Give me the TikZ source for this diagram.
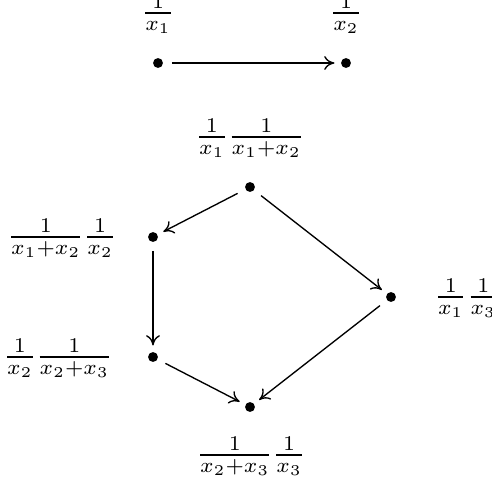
\documentclass[tikz,border=0pt]{standalone}
\usepackage{amsmath}
\usepackage{tikz}
\usetikzlibrary{arrows.meta}

\begin{document}
\begin{tikzpicture}[x=0.3333pt, y=-0.3333pt, >={To[length=3.4pt, width=4.6pt]},
  dot/.style={circle, fill=black, inner sep=0pt, minimum size=3.3pt},
  edge/.style={->, line width=0.45pt, shorten <=2.8pt, shorten >=2pt},
  lbl/.style={anchor=base, inner sep=0pt}]

% pixel coordinates, y grows downwards; fraction bar sits 7.5px above the baseline
\useasboundingbox (0,0) rectangle (492,487);

%% ── two-point chain ──────────────────────────────────────────────
\node[dot] (p1) at (158,63) {};
\node[dot] (p2) at (346,63) {};
\node[lbl] (l1) at (158,20.5) {$\frac{1}{x_1}$};
\node[lbl] (l2) at (346,20.5) {$\frac{1}{x_2}$};
\draw[edge] (p1) -- (p2);

%% ── hexagon of orderings ─────────────────────────────────────────
\node[dot] (n123) at (250,187) {};
\node[dot] (n213) at (153,237) {};
\node[dot] (n132) at (391,297) {};
\node[dot] (n231) at (153,357) {};
\node[dot] (n321) at (250,407) {};

\node[lbl] (t123) at (250,144.5) {$\frac{1}{x_1}\frac{1}{x_1+x_2}$};
\node[lbl] (t213) at (62,244.5)  {$\frac{1}{x_1+x_2}\frac{1}{x_2}$};
\node[lbl] (t132) at (467,304.5) {$\frac{1}{x_1}\frac{1}{x_3}$};
\node[lbl] (t231) at (58,364.5)  {$\frac{1}{x_2}\frac{1}{x_2+x_3}$};
\node[lbl] (t321) at (251,462.5) {$\frac{1}{x_2+x_3}\frac{1}{x_3}$};

\draw[edge] (n123) -- (n213);
\draw[edge] (n123) -- (n132);
\draw[edge] (n213) -- (n231);
\draw[edge] (n231) -- (n321);
\draw[edge] (n132) -- (n321);

\end{tikzpicture}
\end{document}
